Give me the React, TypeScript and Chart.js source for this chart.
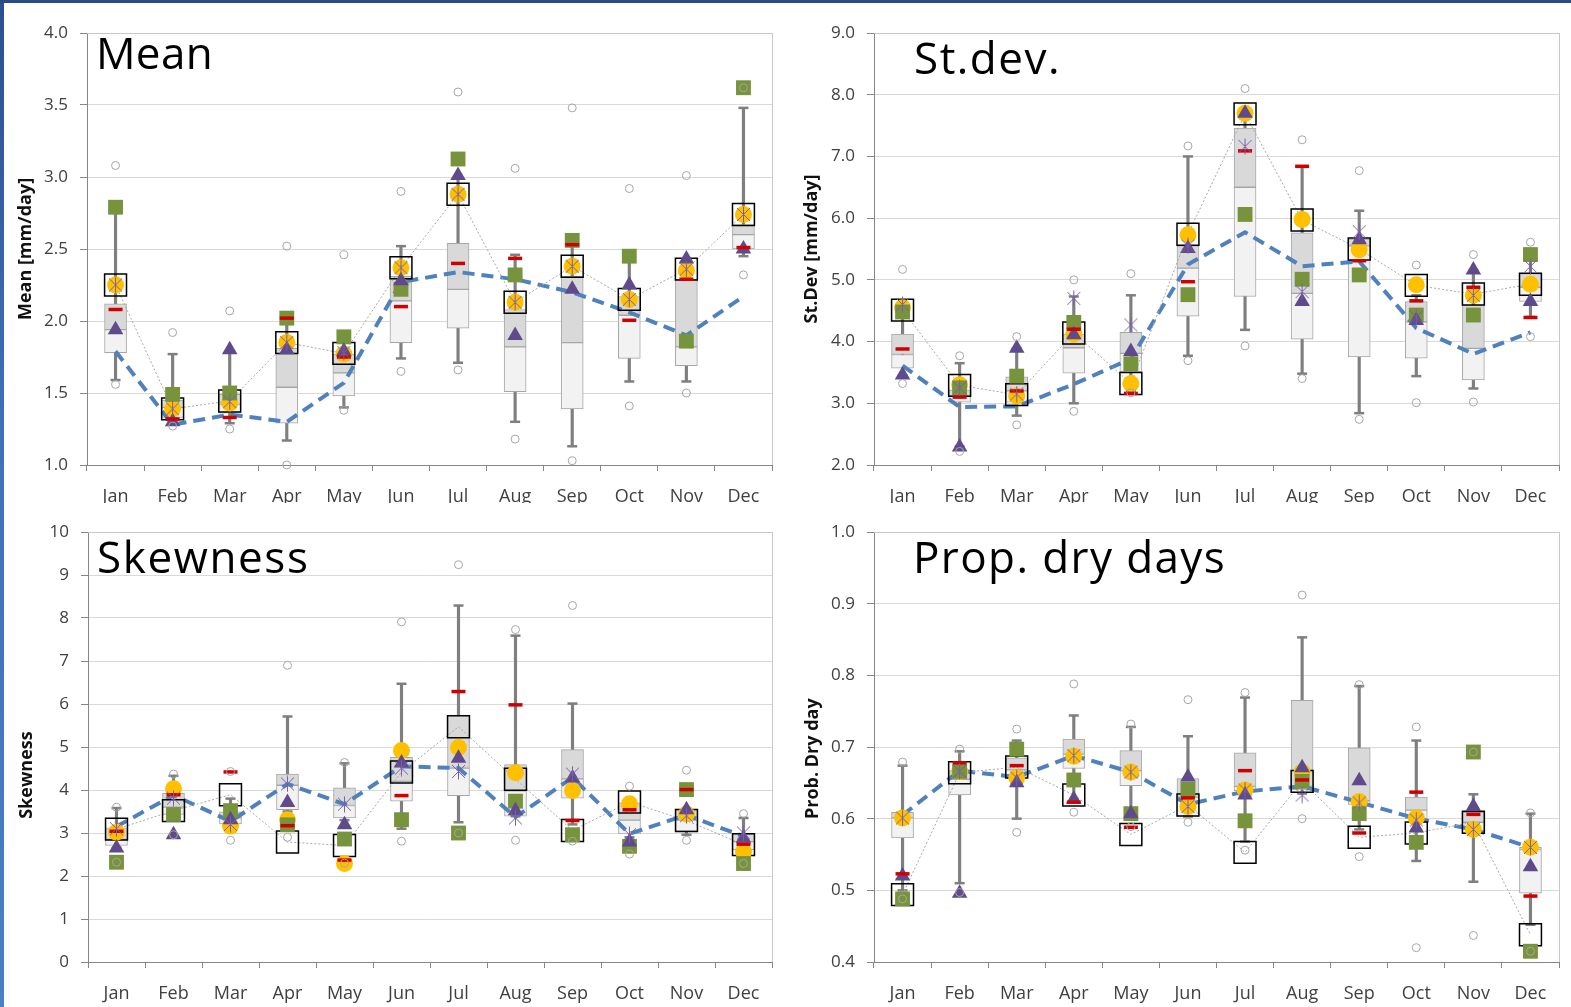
import React, { useEffect, useRef } from 'react';
import { Chart, registerables } from 'chart.js';

Chart.register(...registerables);

const FONT = "'Open Sans', 'Noto Sans', sans-serif";

const months = ['Jan', 'Feb', 'Mar', 'Apr', 'May', 'Jun', 'Jul', 'Aug', 'Sep', 'Oct', 'Nov', 'Dec'];

// ---------- Mean ----------
const meanWhiskLow = [1.59, 1.29, 1.29, 1.17, 1.40, 1.74, 1.71, 1.30, 1.13, 1.58, 1.58, 2.45];
const meanQ1 = [1.78, 1.33, 1.36, 1.29, 1.48, 1.85, 1.95, 1.51, 1.39, 1.74, 1.69, 2.50];
const meanMedian = [1.94, 1.40, 1.42, 1.54, 1.64, 2.14, 2.22, 1.82, 1.85, 2.04, 1.82, 2.60];
const meanQ3 = [2.12, 1.45, 1.49, 1.81, 1.77, 2.31, 2.54, 2.08, 2.31, 2.17, 2.29, 2.67];
const meanWhiskHigh = [2.79, 1.77, 1.78, 2.03, 1.88, 2.52, 3.00, 2.46, 2.55, 2.45, 2.42, 3.48];
const meanOutHigh = [3.08, 1.92, 2.07, 2.52, 2.46, 2.90, 3.59, 3.06, 3.48, 2.92, 3.01, 3.62];
const meanOutLow = [1.56, 1.27, 1.25, 1.00, 1.38, 1.65, 1.66, 1.18, 1.03, 1.41, 1.50, 2.32];
const meanObs = [2.25, 1.39, 1.445, 1.85, 1.775, 2.37, 2.88, 2.13, 2.38, 2.15, 2.36, 2.74];
const meanYellow = [2.25, 1.39, 1.43, 1.85, 1.77, 2.37, 2.88, 2.13, 2.38, 2.15, 2.35, 2.74];
const meanStar = [2.25, 1.39, 1.44, 1.85, 1.78, 2.37, 2.88, 2.13, 2.38, 2.15, 2.36, 2.74];
const meanTriangle = [1.94, 1.30, 1.80, 1.80, 1.79, 2.28, 3.01, 1.90, 2.22, 2.25, 2.43, 2.50];
const meanGreen = [2.79, 1.49, 1.50, 2.02, 1.89, 2.22, 3.125, 2.32, 2.56, 2.45, 1.86, 3.62];
const meanRed = [2.08, 1.32, 1.33, 2.02, 1.75, 2.10, 2.40, 2.435, 2.53, 2.005, 2.29, 2.51];
const meanBlue = [1.79, 1.28, 1.35, 1.30, 1.57, 2.27, 2.34, 2.29, 2.20, 2.06, 1.90, 2.17];

// ---------- St.dev ----------
const sdWhiskLow = [3.45, 2.30, 2.80, 3.00, 3.20, 3.77, 4.19, 3.48, 2.84, 3.44, 3.24, 4.40];
const sdQ1 = [3.57, 3.02, 3.02, 3.49, 3.51, 4.41, 4.73, 4.04, 3.75, 3.73, 3.38, 4.65];
const sdMedian = [3.79, 3.12, 3.20, 3.90, 3.81, 5.19, 6.50, 4.78, 5.55, 4.32, 3.89, 4.88];
const sdQ3 = [4.12, 3.22, 3.43, 4.12, 4.15, 5.55, 7.46, 5.76, 5.66, 4.65, 4.59, 5.10];
const sdWhiskHigh = [4.45, 3.65, 3.89, 4.73, 4.75, 7.00, 7.65, 6.84, 6.12, 4.75, 5.15, 5.42];
const sdOutHigh = [5.17, 3.77, 4.08, 5.00, 5.10, 7.17, 8.10, 7.27, 6.77, 5.24, 5.41, 5.61];
const sdOutLow = [3.32, 2.22, 2.65, 2.87, 3.17, 3.69, 3.93, 3.40, 2.74, 3.01, 3.02, 4.08];
const sdObs = [4.51, 3.29, 3.14, 4.14, 3.32, 5.74, 7.69, 5.97, 5.50, 4.91, 4.77, 4.93];
const sdYellow = [4.55, 3.30, 3.12, 4.12, 3.32, 5.73, 7.70, 5.98, 5.49, 4.92, 4.75, 4.93];
const sdStar = [4.60, 3.25, 3.15, 4.70, 4.27, 5.55, 7.16, 4.81, 5.78, 4.40, 4.75, 5.22];
const sdTriangle = [3.46, 2.29, 3.89, 4.11, 3.84, 5.51, 7.70, 4.65, 5.65, 4.34, 5.16, 4.65];
const sdGreen = [4.48, 3.25, 3.44, 4.31, 3.64, 4.76, 6.06, 5.01, 5.08, 4.43, 4.43, 5.41];
const sdRed = [3.88, 3.10, 3.20, 4.20, 3.16, 4.97, 7.09, 6.84, 5.31, 4.66, 4.88, 4.39];
const sdBlue = [3.61, 2.94, 2.95, 3.31, 3.72, 5.25, 5.77, 5.22, 5.30, 4.22, 3.80, 4.15];

// ---------- Skewness ----------
const skWhiskLow = [2.65, 3.40, 3.10, 3.50, 3.30, 3.10, 3.25, 3.39, 3.20, 2.90, 2.96, 2.55];
const skQ1 = [2.71, 3.43, 3.21, 3.54, 3.35, 3.74, 3.87, 3.39, 3.81, 2.98, 3.04, 2.61];
const skMedian = [2.85, 3.60, 3.35, 4.11, 3.64, 4.20, 4.51, 3.98, 4.26, 3.30, 3.30, 2.80];
const skQ3 = [3.12, 3.92, 3.49, 4.37, 4.05, 4.76, 5.74, 4.59, 4.94, 3.70, 3.54, 2.98];
const skWhiskHigh = [3.58, 4.33, 3.80, 5.71, 4.62, 6.47, 8.29, 7.59, 6.01, 3.72, 3.54, 3.35];
const skOutHigh = [3.60, 4.37, 4.43, 6.90, 4.64, 7.91, 9.24, 7.73, 8.29, 4.09, 4.46, 3.45];
const skOutLow = [2.32, 2.96, 2.83, 2.90, 2.30, 2.81, 3.00, 2.83, 2.81, 2.51, 2.83, 2.29];
const skObs = [3.09, 3.52, 3.89, 2.79, 2.71, 4.42, 5.47, 4.25, 3.06, 3.72, 3.29, 2.73];
const skYellow = [3.02, 4.03, 3.16, 3.31, 2.29, 4.92, 4.99, 4.40, 3.99, 3.68, 3.44, 2.57];
const skStar = [3.10, 3.81, 3.20, 4.14, 3.67, 4.51, 4.43, 3.35, 4.37, 2.96, 3.40, 3.00];
const skTriangle = [2.65, 2.96, 3.31, 3.71, 3.19, 4.63, 4.74, 3.52, 4.28, 2.79, 3.54, 2.88];
const skGreen = [2.32, 3.43, 3.52, 3.19, 2.86, 3.31, 3.00, 3.74, 2.96, 2.69, 4.01, 2.29];
const skRed = [3.04, 3.89, 4.42, 3.17, 2.37, 3.87, 6.29, 5.98, 3.29, 3.54, 4.01, 2.74];
const skBlue = [3.15, 3.88, 3.27, 4.14, 3.67, 4.55, 4.51, 3.37, 4.29, 2.98, 3.42, 2.92];

// ---------- Prop. dry days ----------
const pdWhiskLow = [0.50, 0.51, 0.60, 0.625, 0.60, 0.603, 0.568, 0.635, 0.585, 0.541, 0.512, 0.452];
const pdQ1 = [0.573, 0.633, 0.658, 0.670, 0.646, 0.603, 0.639, 0.640, 0.620, 0.600, 0.580, 0.496];
const pdMedian = [0.601, 0.655, 0.668, 0.690, 0.667, 0.630, 0.645, 0.645, 0.625, 0.612, 0.595, 0.557];
const pdQ3 = [0.609, 0.667, 0.685, 0.711, 0.695, 0.656, 0.692, 0.765, 0.699, 0.630, 0.609, 0.560];
const pdWhiskHigh = [0.674, 0.694, 0.709, 0.744, 0.728, 0.715, 0.769, 0.853, 0.785, 0.709, 0.634, 0.607];
const pdOutHigh = [0.679, 0.697, 0.725, 0.788, 0.732, 0.766, 0.776, 0.912, 0.787, 0.728, 0.693, 0.608];
const pdOutLow = [0.488, 0.497, 0.581, 0.609, 0.589, 0.595, 0.556, 0.600, 0.547, 0.420, 0.437, 0.415];
const pdObs = [0.494, 0.664, 0.672, 0.633, 0.578, 0.619, 0.553, 0.652, 0.574, 0.580, 0.595, 0.438];
const pdYellow = [0.601, 0.666, 0.657, 0.687, 0.665, 0.617, 0.640, 0.665, 0.624, 0.601, 0.585, 0.560];
const pdStar = [0.601, 0.666, 0.657, 0.688, 0.665, 0.617, 0.640, 0.633, 0.622, 0.598, 0.585, 0.560];
const pdTriangle = [0.520, 0.496, 0.650, 0.627, 0.607, 0.658, 0.633, 0.671, 0.653, 0.587, 0.617, 0.533];
const pdGreen = [0.488, 0.666, 0.697, 0.654, 0.607, 0.641, 0.597, 0.652, 0.607, 0.567, 0.693, 0.415];
const pdRed = [0.523, 0.678, 0.674, 0.623, 0.588, 0.629, 0.667, 0.654, 0.580, 0.637, 0.606, 0.492];
const pdBlue = [0.605, 0.667, 0.658, 0.688, 0.665, 0.620, 0.638, 0.645, 0.623, 0.600, 0.585, 0.560];

type Series = {
  whiskLow: number[]; q1: number[]; median: number[]; q3: number[]; whiskHigh: number[];
  outHigh: number[]; outLow: number[]; obs: number[]; yellow: number[]; star: number[];
  triangle: number[]; green: number[]; red: number[]; blue: number[];
};

type PanelSpec = {
  title: string; yTitle: string; yTitleShift: number; min: number; max: number; step: number; dec: number;
  series: Series;
  left: number; top: number; w: number; h: number; clipH: number;
  yWidth: number; padTop: number; padRight: number; xHeight: number; titlePad: number;
  titleLeft: number; titleTop: number; titleSpacing: number;
};

const panels: PanelSpec[] = [
  {
    title: 'Mean', yTitle: 'Mean [mm/day]', yTitleShift: 0, min: 1, max: 4, step: 0.5, dec: 1,
    series: { whiskLow: meanWhiskLow, q1: meanQ1, median: meanMedian, q3: meanQ3, whiskHigh: meanWhiskHigh, outHigh: meanOutHigh, outLow: meanOutLow, obs: meanObs, yellow: meanYellow, star: meanStar, triangle: meanTriangle, green: meanGreen, red: meanRed, blue: meanBlue },
    left: 0, top: 0, w: 785, h: 520, clipH: 503, yWidth: 87, padTop: 33, padRight: 13, xHeight: 55, titlePad: 15,
    titleLeft: 96, titleTop: 30, titleSpacing: 0.3,
  },
  {
    title: 'St.dev.', yTitle: 'St.Dev [mm/day]', yTitleShift: 0, min: 2, max: 9, step: 1, dec: 1,
    series: { whiskLow: sdWhiskLow, q1: sdQ1, median: sdMedian, q3: sdQ3, whiskHigh: sdWhiskHigh, outHigh: sdOutHigh, outLow: sdOutLow, obs: sdObs, yellow: sdYellow, star: sdStar, triangle: sdTriangle, green: sdGreen, red: sdRed, blue: sdBlue },
    left: 785, top: 0, w: 786, h: 520, clipH: 503, yWidth: 89, padTop: 33, padRight: 12, xHeight: 55, titlePad: 16,
    titleLeft: 914, titleTop: 35, titleSpacing: 1.5,
  },
  {
    title: 'Skewness', yTitle: 'Skewness', yTitleShift: 12, min: 0, max: 10, step: 1, dec: 0,
    series: { whiskLow: skWhiskLow, q1: skQ1, median: skMedian, q3: skQ3, whiskHigh: skWhiskHigh, outHigh: skOutHigh, outLow: skOutLow, obs: skObs, yellow: skYellow, star: skStar, triangle: skTriangle, green: skGreen, red: skRed, blue: skBlue },
    left: 0, top: 505, w: 785, h: 502, clipH: 502, yWidth: 88, padTop: 27, padRight: 13, xHeight: 45, titlePad: 16,
    titleLeft: 97, titleTop: 534, titleSpacing: 1.6,
  },
  {
    title: 'Prop. dry days', yTitle: 'Prob. Dry day', yTitleShift: 5, min: 0.4, max: 1.0, step: 0.1, dec: 1,
    series: { whiskLow: pdWhiskLow, q1: pdQ1, median: pdMedian, q3: pdQ3, whiskHigh: pdWhiskHigh, outHigh: pdOutHigh, outLow: pdOutLow, obs: pdObs, yellow: pdYellow, star: pdStar, triangle: pdTriangle, green: pdGreen, red: pdRed, blue: pdBlue },
    left: 785, top: 505, w: 786, h: 502, clipH: 502, yWidth: 89, padTop: 27, padRight: 12, xHeight: 45, titlePad: 17,
    titleLeft: 913, titleTop: 534, titleSpacing: 1.4,
  },
];

function makeStar(): HTMLCanvasElement {
  const c = document.createElement('canvas');
  c.width = 17;
  c.height = 17;
  const g = c.getContext('2d');
  if (g) {
    g.strokeStyle = '#7b5fa8';
    g.lineWidth = 1;
    g.beginPath();
    g.moveTo(2, 2); g.lineTo(15, 15);
    g.moveTo(15, 2); g.lineTo(2, 15);
    g.moveTo(8.5, 0.5); g.lineTo(8.5, 16.5);
    g.stroke();
  }
  return c;
}

const framePlugin = {
  id: 'frame',
  beforeDatasetsDraw(chart: any) {
    const { ctx, chartArea: a } = chart;
    ctx.save();
    ctx.strokeStyle = '#c8c8c8';
    ctx.lineWidth = 1;
    const x = Math.round(a.right) + 0.5;
    ctx.beginPath();
    ctx.moveTo(x, a.top);
    ctx.lineTo(x, a.bottom);
    ctx.moveTo(a.left, Math.round(a.top) + 0.5);
    ctx.lineTo(x, Math.round(a.top) + 0.5);
    ctx.stroke();
    ctx.restore();
  },
};

function Panel({ spec }: { spec: PanelSpec }) {
  const ref = useRef<HTMLCanvasElement>(null);
  useEffect(() => {
    if (!ref.current) return;
    const s = spec.series;
    const star = makeStar();
    const pts = (data: number[], style: any, radius: number, bg: string, border: string, bw: number, order: number) => ({
      type: 'line' as const,
      data,
      showLine: false,
      pointStyle: style,
      pointRadius: radius,
      pointHoverRadius: radius,
      pointBackgroundColor: bg,
      pointBorderColor: border,
      pointBorderWidth: bw,
      backgroundColor: bg,
      borderColor: border,
      order,
      clip: false as any,
    });
    const chart = new Chart(ref.current, {
      type: 'bar',
      data: {
        labels: months,
        datasets: [
          { type: 'bar', data: s.whiskLow.map((v, i) => [v, s.whiskHigh[i]]), backgroundColor: '#7f7f7f', borderWidth: 0, barThickness: 2.5, grouped: false, order: 12 } as any,
          { type: 'bar', data: s.q1.map((v, i) => [v, s.median[i]]), backgroundColor: '#f2f2f2', borderColor: '#a6a6a6', borderWidth: 1, borderSkipped: false, barThickness: 22, grouped: false, order: 11 } as any,
          { type: 'bar', data: s.median.map((v, i) => [v, s.q3[i]]), backgroundColor: '#d9d9d9', borderColor: '#a6a6a6', borderWidth: 1, borderSkipped: false, barThickness: 22, grouped: false, order: 11 } as any,
          pts(s.whiskLow, 'line', 5, '#7f7f7f', '#7f7f7f', 2.5, 10),
          pts(s.whiskHigh, 'line', 5, '#7f7f7f', '#7f7f7f', 2.5, 10),
          { type: 'line', data: s.blue, borderColor: '#4f81bd', borderWidth: 4, borderDash: [12, 7], pointRadius: 0, fill: false, tension: 0, order: 9 } as any,
          { type: 'line', data: s.obs, borderColor: '#a8a8a8', borderWidth: 1, borderDash: [2, 2], pointRadius: 0, fill: false, tension: 0, order: 8 } as any,
          pts(s.obs, 'rect', 15.5, 'rgba(0,0,0,0)', '#000000', 1.5, 7),
          pts(s.yellow, 'circle', 8.5, '#ffc000', '#ffc000', 0, 6),
          pts(s.green, 'rect', 10.5, '#77933c', '#77933c', 0, 5),
          pts(s.triangle, 'triangle', 9, '#5f4b8b', '#5f4b8b', 0, 4),
          pts(s.red, 'line', 7, '#d00000', '#d00000', 3.5, 3),
          pts(s.star, star, 8, '#7b5fa8', '#7b5fa8', 1, 2),
          pts(s.outHigh, 'circle', 4, 'rgba(0,0,0,0)', '#a6a6a6', 1, 1),
          pts(s.outLow, 'circle', 4, 'rgba(0,0,0,0)', '#a6a6a6', 1, 1),
        ] as any,
      },
      options: {
        responsive: false,
        animation: false,
        events: [],
        layout: { autoPadding: false, padding: { top: spec.padTop, right: spec.padRight, left: 0, bottom: 0 } },
        plugins: { legend: { display: false }, tooltip: { enabled: false } },
        scales: {
          x: {
            type: 'category',
            offset: true,
            grid: { offset: true, drawOnChartArea: false, drawTicks: true, tickLength: 6, tickColor: '#868686', color: '#868686' },
            border: { color: '#868686', width: 1 },
            ticks: { color: '#404040', font: { family: FONT, size: 18 }, padding: 15, maxRotation: 0, autoSkip: false },
            afterFit: (sc: any) => { sc.height = spec.xHeight; },
          },
          y: {
            type: 'linear',
            min: spec.min,
            max: spec.max,
            grid: { color: '#d9d9d9', tickLength: 7, tickColor: '#868686', drawTicks: true },
            border: { color: '#868686', width: 1 },
            ticks: {
              stepSize: spec.step,
              color: '#404040',
              font: { family: FONT, size: 17 },
              padding: 12,
              callback: (v: any) => Number(v).toFixed(spec.dec),
            },
            title: {
              display: true,
              text: spec.yTitle + ' '.repeat(spec.yTitleShift),
              color: '#111111',
              font: { family: FONT, size: 18, weight: 'bold' },
              padding: { top: spec.titlePad, bottom: 0 },
            },
            afterFit: (sc: any) => { sc.width = spec.yWidth; },
          },
        },
      } as any,
      plugins: [framePlugin],
    });
    return () => chart.destroy();
  }, [spec]);

  return (
    <div style={{ position: 'absolute', left: spec.left, top: spec.top, width: spec.w, height: spec.clipH, overflow: 'hidden', background: '#ffffff' }}>
      <canvas ref={ref} width={spec.w} height={spec.h} style={{ display: 'block' }} />
    </div>
  );
}

export default function App() {
  return (
    <div style={{ position: 'absolute', left: 0, top: 0, width: 1571, height: 1007, overflow: 'hidden', background: '#ffffff' }}>
      {panels.map((p) => (
        <Panel key={p.title} spec={p} />
      ))}
      {panels.map((p) => (
        <div
          key={'t' + p.title}
          style={{ position: 'absolute', left: p.titleLeft, top: p.titleTop, fontFamily: FONT, fontSize: 44, lineHeight: '44px', letterSpacing: p.titleSpacing, color: '#000', whiteSpace: 'nowrap' }}
        >
          {p.title}
        </div>
      ))}
      <div style={{ position: 'absolute', left: 0, top: 0, width: 4, height: 1007, background: 'linear-gradient(#2c4f8e, #3f6fb8 40%, #4a7fc6)' }} />
      <div style={{ position: 'absolute', left: 0, top: 0, width: 1571, height: 3, background: '#2b4a86' }} />
    </div>
  );
}
